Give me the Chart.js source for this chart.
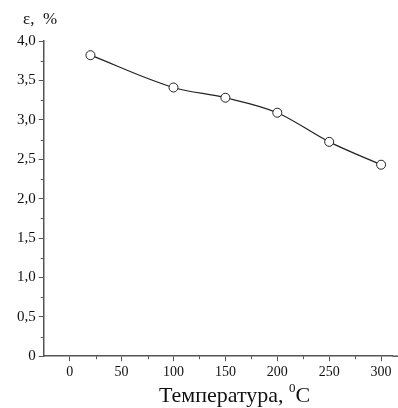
<!DOCTYPE html>
<html>
<head>
<meta charset="utf-8">
<script src="https://cdn.jsdelivr.net/npm/chart.js@4"></script>
<style>
  html, body { margin: 0; padding: 0; background: #fff; }
  #wrap { width: 398px; height: 408px; }
</style>
</head>
<body>
<div id="wrap"><canvas id="myChart"></canvas></div>
<script>
var temps = [20, 100, 150, 200, 250, 300];
var strain = [3.82, 3.41, 3.28, 3.09, 2.72, 2.43];
var xTicks = [0, 50, 100, 150, 200, 250, 300];
var yTicks = [0, 0.5, 1.0, 1.5, 2.0, 2.5, 3.0, 3.5, 4.0];

var serif = "'Liberation Serif', 'DejaVu Serif', serif";
var axisColor = "#555";

function fmt(v) {
    if (v === 0) return "0";
    return v.toFixed(1).replace(".", ",");
}

// minor ticks plus the axis labels
var extras = {
    id: "extras",
    afterDraw: function(chart) {
        var c = chart.ctx;
        var xs = chart.scales.x, ys = chart.scales.y;
        var area = chart.chartArea;
        c.save();
        c.strokeStyle = axisColor;
        c.lineWidth = 1;
        c.beginPath();
        for (var v = 25; v < 315; v += 50) {
            var px = Math.round(xs.getPixelForValue(v)) + 0.5;
            if (px > area.right) break;
            c.moveTo(px, area.bottom);
            c.lineTo(px, area.bottom + 3);
        }
        for (var w = 0.25; w < 4; w += 0.5) {
            var py = Math.round(ys.getPixelForValue(w)) + 0.5;
            c.moveTo(area.left, py);
            c.lineTo(area.left - 3, py);
        }
        c.stroke();
        // bottom axis runs on to the right edge
        c.lineWidth = 1.5;
        c.beginPath();
        c.moveTo(area.right, area.bottom);
        c.lineTo(chart.width, area.bottom);
        c.stroke();

        c.fillStyle = "#111";
        c.textBaseline = "alphabetic";
        c.font = "17px " + serif;
        c.fillText("ε,  %", 23, 24);

        c.font = "22px " + serif;
        var t1 = "Температура, ";
        var w1 = c.measureText(t1).width;
        c.font = "13px " + serif;
        var w2 = c.measureText("0").width;
        var x0 = 159;
        var yb = 402;
        c.font = "22px " + serif;
        c.fillText(t1, x0, yb);
        c.font = "13px " + serif;
        c.fillText("0", x0 + w1, yb - 10);
        c.font = "22px " + serif;
        c.fillText("C", x0 + w1 + w2, yb);
        c.restore();
    }
};

var ctx = document.getElementById("myChart");
var myChart = new Chart(ctx, {
    type: "line",
    data: {
        datasets: [{
            data: temps.map(function(t, i) { return { x: t, y: strain[i] }; }),
            borderColor: "#222",
            borderWidth: 1.2,
            cubicInterpolationMode: "monotone",
            pointRadius: 4.5,
            pointBackgroundColor: "#fff",
            pointBorderColor: "#222",
            pointBorderWidth: 1
        }]
    },
    options: {
        responsive: true,
        maintainAspectRatio: false,
        animation: false,
        layout: { padding: { top: 41, right: 0, bottom: 24, left: 14 } },
        plugins: {
            legend: { display: false },
            tooltip: { enabled: false }
        },
        scales: {
            x: {
                type: "linear",
                min: -25,
                max: 311,
                afterBuildTicks: function(s) {
                    s.ticks = xTicks.map(function(v) { return { value: v }; });
                },
                border: { color: axisColor, width: 1.5 },
                grid: { drawOnChartArea: false, tickLength: 5, color: axisColor },
                ticks: {
                    color: "#111",
                    padding: 3,
                    font: { family: serif, size: 14 },
                    maxRotation: 0,
                    callback: function(v) { return String(v); }
                }
            },
            y: {
                min: 0,
                max: 4,
                afterBuildTicks: function(s) {
                    s.ticks = yTicks.map(function(v) { return { value: v }; });
                },
                border: { color: axisColor, width: 1.5 },
                grid: { drawOnChartArea: false, tickLength: 5, color: axisColor },
                ticks: {
                    color: "#111",
                    padding: 3,
                    font: { family: serif, size: 15 },
                    callback: function(v) { return fmt(v); }
                }
            }
        }
    },
    plugins: [extras]
});
</script>
</body>
</html>
